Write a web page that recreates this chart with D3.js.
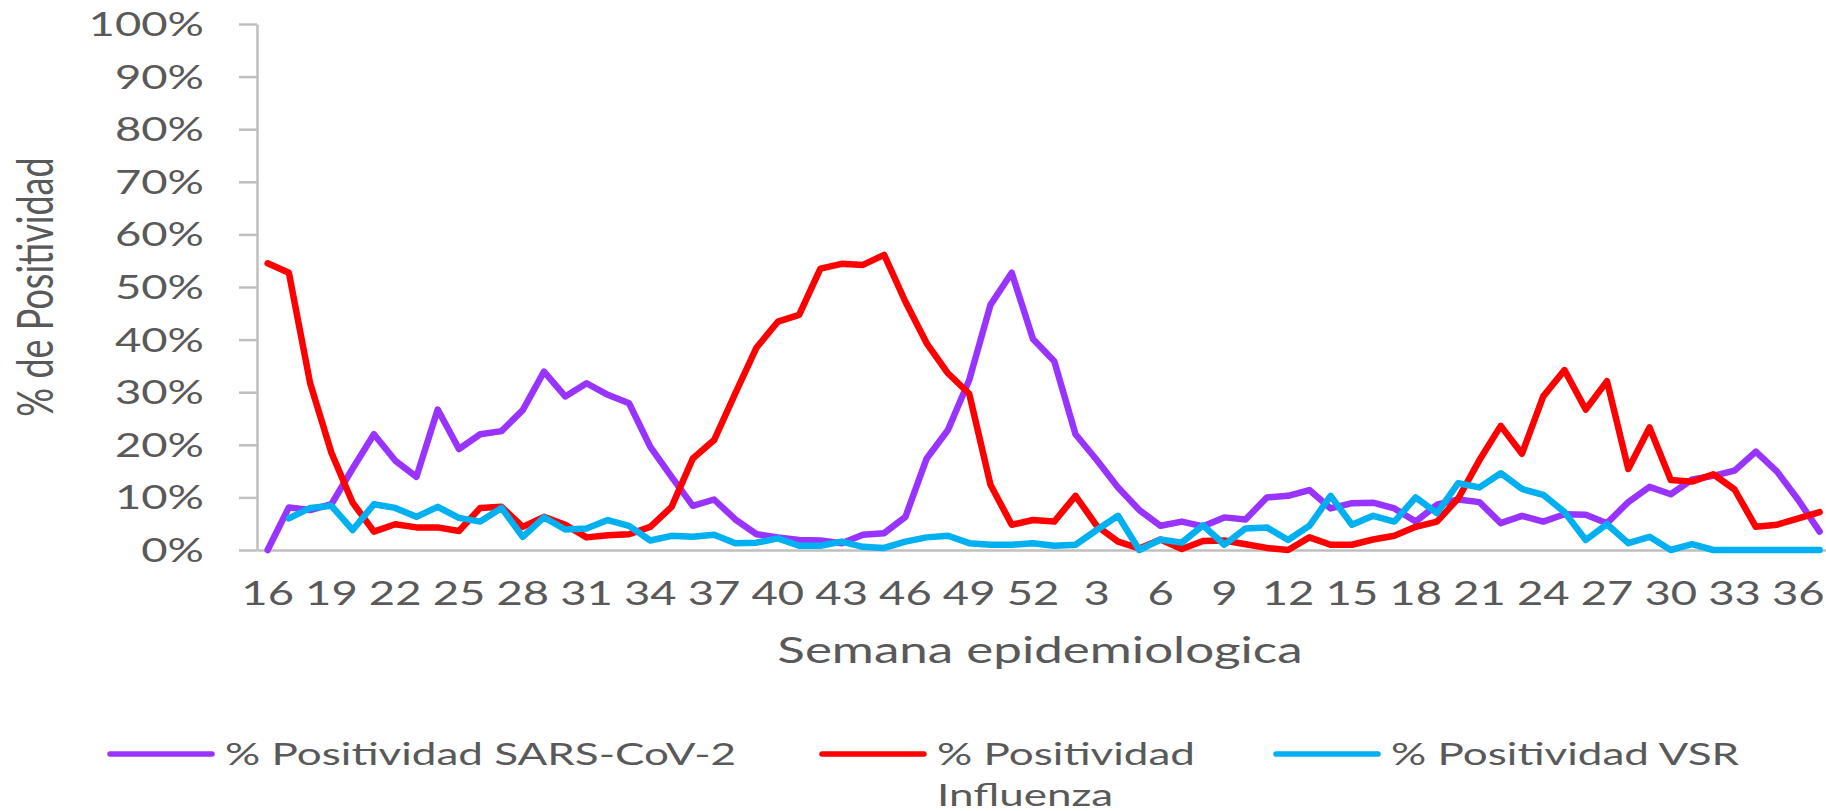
<!DOCTYPE html>
<html>
<head>
<meta charset="utf-8">
<script src="https://cdn.jsdelivr.net/npm/d3@7"></script>
<style>
  body { margin: 0; background: #fff; }
  svg text { font-family: Lato, "Open Sans", sans-serif; fill: #595959; }
</style>
</head>
<body>
<svg id="chart" width="1826" height="811"></svg>
<script>
// semanas epidemiologicas (eje x)
let weeks = [16, 17, 18, 19, 20, 21, 22, 23, 24, 25, 26, 27, 28, 29, 30, 31, 32, 33, 34, 35,
  36, 37, 38, 39, 40, 41, 42, 43, 44, 45, 46, 47, 48, 49, 50, 51, 52,
  1, 2, 3, 4, 5, 6, 7, 8, 9, 10, 11, 12, 13, 14, 15, 16, 17, 18, 19, 20,
  21, 22, 23, 24, 25, 26, 27, 28, 29, 30, 31, 32, 33, 34, 35, 36, 37];

let sarsCov2 = [0, 8.1, 7.6, 8.7, 15.5, 22.0, 17.0, 13.9, 26.7, 19.2, 22.0, 22.6, 26.6, 33.9, 29.2, 31.7,
  29.5, 27.9, 19.6, 13.9, 8.4, 9.6, 5.8, 3.0, 2.4, 1.9, 1.8, 1.3, 2.9, 3.2, 6.3, 17.4, 22.8, 32.3,
  46.6, 52.7, 40.1, 35.9, 22.0, 17.1, 11.9, 7.6, 4.6, 5.4, 4.5, 6.2, 5.8, 10.0, 10.3, 11.4, 7.9,
  8.9, 9.0, 7.9, 5.4, 8.6, 9.6, 9.1, 5.1, 6.5, 5.4, 6.8, 6.7, 5.1, 9.1, 12.0, 10.6, 13.4, 14.1,
  15.1, 18.7, 14.9, 9.5, 3.5];

let influenza = [54.5, 52.7, 31.7, 18.5, 9.0, 3.5, 4.9, 4.3, 4.3, 3.6, 8.0, 8.2, 4.4, 6.3, 4.8, 2.4,
  2.8, 3.0, 4.4, 8.2, 17.4, 20.9, 29.8, 38.5, 43.4, 44.7, 53.5, 54.4, 54.2, 56.1, 47.2, 39.3, 33.6,
  29.7, 12.4, 4.8, 5.7, 5.4, 10.3, 4.6, 1.6, 0.3, 2.0, 0.2, 1.7, 1.8, 1.1, 0.4, 0, 2.4, 1.0, 1.0,
  2.0, 2.7, 4.4, 5.4, 9.8, 17.1, 23.6, 18.3, 29.2, 34.2, 26.7, 32.1, 15.4, 23.3, 13.3, 13.0, 14.4,
  11.5, 4.4, 4.8, 6.0, 7.2];

let vsr = [null, 6.0, 8.0, 8.4, 3.8, 8.7, 8.0, 6.3, 8.2, 6.1, 5.4, 8.0, 2.5, 6.2, 3.9, 4.1,
  5.7, 4.6, 1.8, 2.7, 2.5, 2.9, 1.3, 1.4, 2.2, 0.8, 0.8, 1.6, 0.6, 0.4, 1.6, 2.4, 2.7, 1.3, 1.0,
  1.0, 1.3, 0.8, 1.0, 3.8, 6.5, 0, 2.0, 1.4, 4.7, 1.0, 4.1, 4.3, 1.9, 4.6, 10.3, 4.8, 6.5, 5.4,
  10.0, 7.0, 12.7, 11.9, 14.6, 11.6, 10.5, 7.2, 1.9, 4.9, 1.3, 2.5, 0, 1.1, 0, 0, 0, 0, 0, 0];

let yTicks = [0, 10, 20, 30, 40, 50, 60, 70, 80, 90, 100];

let seriesNames = ["% Positividad SARS-CoV-2", "% Positividad Influenza", "% Positividad VSR"];
let seriesColors = ["#9933ff", "#ff0000", "#00b0f0"];

// el grafico original esta estirado en horizontal
const SX = 1.42;

const svg = d3.select("#chart");
const plotLeft = 257, plotTop = 24, plotBottom = 550, step = 21.26;

const x = d3.scaleBand()
  .domain(d3.range(weeks.length))
  .range([plotLeft, plotLeft + weeks.length * step])
  .padding(0);
const y = d3.scaleLinear().domain([0, 100]).range([plotBottom, plotTop]);

// eje y
const yAxis = svg.append("g")
  .attr("transform", `translate(${plotLeft},0)`)
  .call(d3.axisLeft(y).tickValues(yTicks).tickSize(18).tickSizeOuter(0).tickFormat(d => d + "%"));
yAxis.selectAll("line").attr("stroke", "#bfbfbf").attr("stroke-width", 2.5);
yAxis.select(".domain").attr("stroke", "#bfbfbf").attr("stroke-width", 2.5);
yAxis.selectAll("text")
  .attr("x", -53 / SX)
  .attr("dy", "0.36em")
  .attr("transform", `scale(${SX},1)`)
  .style("font-size", "32px")
  .attr("fill", "#595959");

// eje x
const xAxis = svg.append("g")
  .attr("transform", `translate(0,${plotBottom})`)
  .call(d3.axisBottom(x)
    .tickValues(d3.range(0, weeks.length, 3))
    .tickSize(0)
    .tickSizeOuter(0)
    .tickFormat(i => weeks[i]));
xAxis.select(".domain").attr("stroke", "#bfbfbf").attr("stroke-width", 2.5);
xAxis.selectAll("text")
  .attr("y", 55)
  .attr("dy", 0)
  .attr("transform", `scale(${SX},1)`)
  .attr("x", 0)
  .style("font-size", "32px")
  .attr("fill", "#595959");

// lineas
const line = d3.line()
  .defined(d => d != null)
  .x((d, i) => x(i) + x.bandwidth() / 2)
  .y(d => y(d));

[sarsCov2, influenza, vsr].forEach((data, k) => {
  svg.append("path")
    .attr("d", line(data))
    .attr("fill", "none")
    .attr("stroke", seriesColors[k])
    .attr("stroke-width", 6.5)
    .attr("stroke-linejoin", "round")
    .attr("stroke-linecap", "round");
});

// titulos de ejes
const stretchText = (tx, ty, txt, size, anchor, rot) => {
  let g = svg.append("g").attr("transform", `translate(${tx},${ty}) scale(${SX},1)` + (rot ? ` rotate(${rot})` : ""));
  return g.append("text").attr("text-anchor", anchor).style("font-size", size + "px").text(txt);
};
stretchText(1040, 663, "Semana epidemiologica", 36, "middle");
stretchText(53, 287, "% de Positividad", 36, "middle", -90);

// leyenda
let legendX = [107, 819, 1273];
let legendY = 754;
seriesNames.forEach((name, k) => {
  svg.append("line")
    .attr("x1", legendX[k] + 3).attr("x2", legendX[k] + 105)
    .attr("y1", legendY).attr("y2", legendY)
    .attr("stroke", seriesColors[k])
    .attr("stroke-width", 5.5)
    .attr("stroke-linecap", "round");
  let parts = k == 1 ? ["% Positividad", "Influenza"] : [name];
  parts.forEach((p, j) => {
    stretchText(legendX[k] + 118, legendY + 11 + j * 41, p, 31, "start");
  });
});
</script>
</body>
</html>
